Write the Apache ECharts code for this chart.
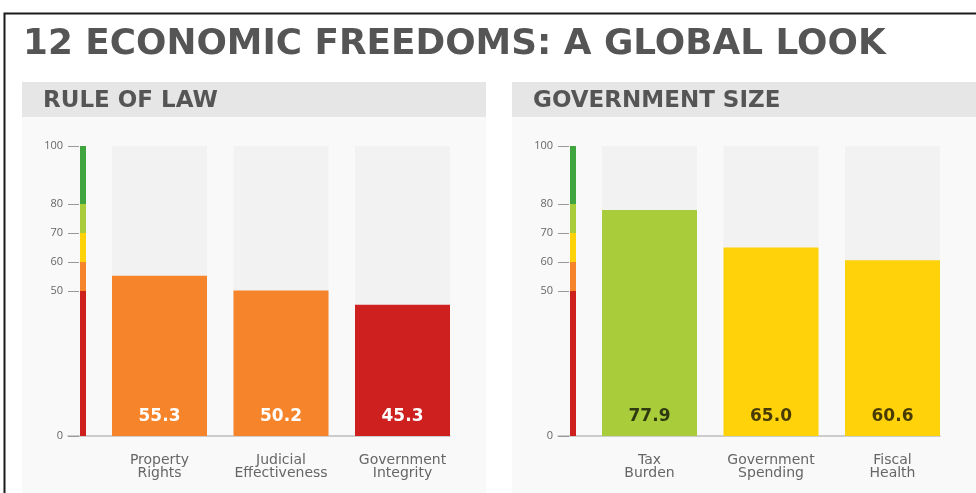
<!DOCTYPE html>
<html><head><meta charset="utf-8">
<script src="https://cdn.jsdelivr.net/npm/echarts@6/dist/echarts.min.js"></script>
<style>html,body{margin:0;padding:0;background:#fff}#c{width:976px;height:493px}</style>
</head><body><div id="c"></div>
<script>
const titleText = '12 ECONOMIC FREEDOMS: A GLOBAL LOOK';
const panelTitles = ['RULE OF LAW', 'GOVERNMENT SIZE'];
const ruleCats = ['Property\nRights', 'Judicial\nEffectiveness', 'Government\nIntegrity'];
const ruleVals = [55.3, 50.2, 45.3];
const sizeCats = ['Tax\nBurden', 'Government\nSpending', 'Fiscal\nHealth'];
const sizeVals = [77.9, 65.0, 60.6];
const tickVals = [0, 50, 60, 70, 80, 100];
const bandSizes = [50, 10, 10, 10, 20];
const bandColors = ['#cf2020', '#f5842b', '#ffd20a', '#a8cc3a', '#40a53f'];
const bandLabelDark = [false, false, true, true, true];

const FONT = 'DejaVu Sans';
const FONT2 = 'Open Sans';
function bandIndex(v) {
  let acc = 0;
  for (let i = 0; i < bandSizes.length; i++) { acc += bandSizes[i]; if (v < acc) return i; }
  return bandSizes.length - 1;
}

const panels = [{ cats: ruleCats, vals: ruleVals }, { cats: sizeCats, vals: sizeVals }];
const grid = [], xAxis = [], yAxis = [], series = [], title = [];
title.push({ text: titleText, left: 23, top: 27, padding: 0, textStyle: { fontFamily: FONT, fontSize: 35.8, fontWeight: 'bold', color: '#555' } });

panels.forEach((p, k) => {
  const dx = 490 * k;
  const gi = grid.length;
  grid.push({ left: 98.75 + dx, width: 364.5, top: 146, height: 290 });
  grid.push({ left: 68 + dx, width: 382, top: 146, height: 290 });
  grid.push({ left: 80 + dx, width: 6, top: 146, height: 290 });
  title.push({ text: panelTitles[k], left: 43 + dx, top: 90, padding: 0, textStyle: { fontFamily: FONT, fontSize: 23, fontWeight: 'bold', color: '#555' } });

  xAxis.push({ type: 'category', gridIndex: gi, data: p.cats, axisLine: { show: false }, axisTick: { show: false },
    axisLabel: { margin: 18, color: '#666', fontFamily: FONT, fontSize: 14, lineHeight: 13 } });
  yAxis.push({ type: 'value', gridIndex: gi, min: 0, max: 100, show: false });

  xAxis.push({ type: 'value', gridIndex: gi + 1, min: 0, max: 1, axisLine: { show: true, lineStyle: { color: '#bdbdbd', width: 1.5 } },
    axisTick: { show: false }, axisLabel: { show: false }, splitLine: { show: false } });
  yAxis.push({ type: 'value', gridIndex: gi + 1, min: 0, max: 100, axisLine: { show: false },
    axisTick: { show: true, inside: true, length: 11, customValues: tickVals, lineStyle: { color: '#999', width: 1 } },
    axisLabel: { customValues: tickVals, color: '#666', fontFamily: FONT2, fontSize: 11, margin: 5 },
    splitLine: { show: false } });

  xAxis.push({ type: 'category', gridIndex: gi + 2, data: [''], show: false });
  yAxis.push({ type: 'value', gridIndex: gi + 2, min: 0, max: 100, show: false });

  series.push({
    type: 'bar', xAxisIndex: gi, yAxisIndex: gi, barWidth: 95,
    showBackground: true, backgroundStyle: { color: '#f2f2f2' },
    data: p.vals.map(v => {
      const b = bandIndex(v);
      return { value: v, itemStyle: { color: bandColors[b] },
        label: { color: bandLabelDark[b] ? 'rgba(0,0,0,0.72)' : '#fff' } };
    }),
    label: { show: true, position: 'insideBottom', distance: 11, fontFamily: FONT, fontSize: 17, fontWeight: 'bold',
      formatter: d => d.value.toFixed(1) },
    silent: true
  });
  series.push({ type: 'line', xAxisIndex: gi + 1, yAxisIndex: gi + 1, data: [], silent: true });
  bandSizes.forEach((s, i) => {
    series.push({ type: 'bar', xAxisIndex: gi + 2, yAxisIndex: gi + 2, stack: 'band' + k, barWidth: '100%',
      data: [s], itemStyle: { color: bandColors[i] }, silent: true });
  });
});

const graphic = [
  { type: 'rect', z: -10, shape: { x: 22, y: 82, width: 464, height: 420 }, style: { fill: '#f9f9f9' } },
  { type: 'rect', z: -9, shape: { x: 22, y: 82, width: 464, height: 35 }, style: { fill: '#e6e6e6' } },
  { type: 'rect', z: -10, shape: { x: 512, y: 82, width: 470, height: 420 }, style: { fill: '#f9f9f9' } },
  { type: 'rect', z: -9, shape: { x: 512, y: 82, width: 470, height: 35 }, style: { fill: '#e6e6e6' } },
  { type: 'polyline', z: 10, shape: { points: [[4.5, 500], [4.5, 13.5], [980, 13.5]] }, style: { stroke: '#1a1a1a', lineWidth: 2, fill: null } }
];

const chart = echarts.init(document.getElementById('c'), null, { renderer: 'canvas' });
chart.setOption({ animation: false, backgroundColor: '#fff', title, grid, xAxis, yAxis, series, graphic });
</script></body></html>
